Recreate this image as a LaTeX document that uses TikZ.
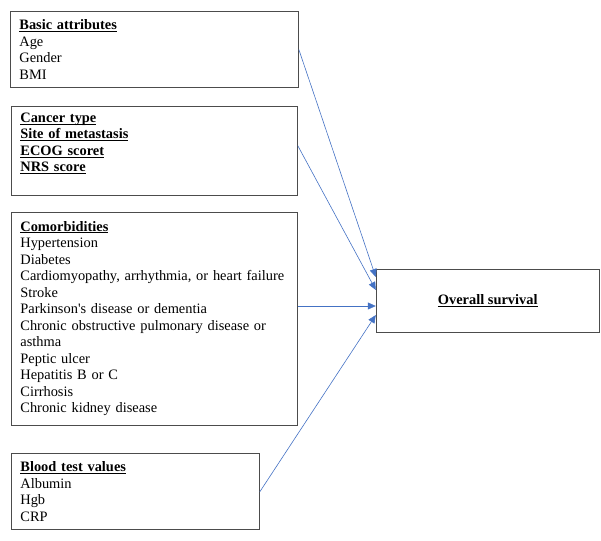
\documentclass[tikz,border=0pt]{standalone}
\usepackage{fontspec}
\setmainfont{Liberation Serif}
\usetikzlibrary{arrows.meta,positioning}
\definecolor{wordblue}{RGB}{68,114,196}
\tikzset{
    group/.style={draw=black!70,line width=0.8pt,align=left,inner xsep=9pt,inner ysep=2pt,font=\fontsize{14.4}{16.5}\selectfont},
    outcome/.style={draw=black!70,line width=0.8pt,minimum width=223pt,minimum height=63pt,font=\fontsize{14.4}{16.5}\selectfont},
    pre/.style={-{Triangle[length=8pt,width=7pt]},draw=wordblue,line width=0.6pt}
}
\newcommand{\heading}[1]{\underline{\smash{\textbf{#1}}}\vphantom{\textbf{#1}}}

\begin{document}
\begin{tikzpicture}[x=1pt,y=-1pt]
    \useasboundingbox (0,0) rectangle (601,540);

    \node[group,text width=270pt,minimum height=76pt,anchor=north west] (group 1) at (10,11)
        {\heading{Basic attributes}\\Age\\Gender\\BMI};
    \node[group,text width=268pt,minimum height=89pt] (group 2) [below right=18pt and 1pt of group 1.south west]
        {\heading{Cancer type}\\\heading{Site of metastasis}\\\heading{ECOG scoret}\\\heading{NRS score}\\\mbox{}};
    \node[group,text width=268pt,minimum height=213pt] (group 3) [below right=16pt and 0pt of group 2.south west]
        {\heading{Comorbidities}\\Hypertension\\Diabetes\\Cardiomyopathy, arrhythmia, or heart failure\\Stroke\\
         Parkinson\textquotesingle s disease or dementia\\Chronic obstructive pulmonary disease or\\asthma\\Peptic ulcer\\
         Hepatitis B or C\\Cirrhosis\\Chronic kidney disease};
    \node[group,text width=230pt,minimum height=76pt] (group 4) [below right=28pt and 0pt of group 3.south west]
        {\heading{Blood test values}\\Albumin\\Hgb\\CRP};

    \node[outcome] (outcome) [right=78pt of group 3,yshift=18pt] {\heading{Overall survival}};

    \coordinate (into 3) at ([yshift=-5.5pt]outcome.west);
    \draw[pre] (group 1.east) -- ([yshift=23.5pt]outcome.west);
    \draw[pre] ([yshift=5pt]group 2.east) -- ([yshift=10.5pt]outcome.west);
    \draw[pre] (group 3.east |- into 3) -- (into 3);
    \draw[pre] (group 4.east) -- ([yshift=-14.5pt]outcome.west);
\end{tikzpicture}
\end{document}
